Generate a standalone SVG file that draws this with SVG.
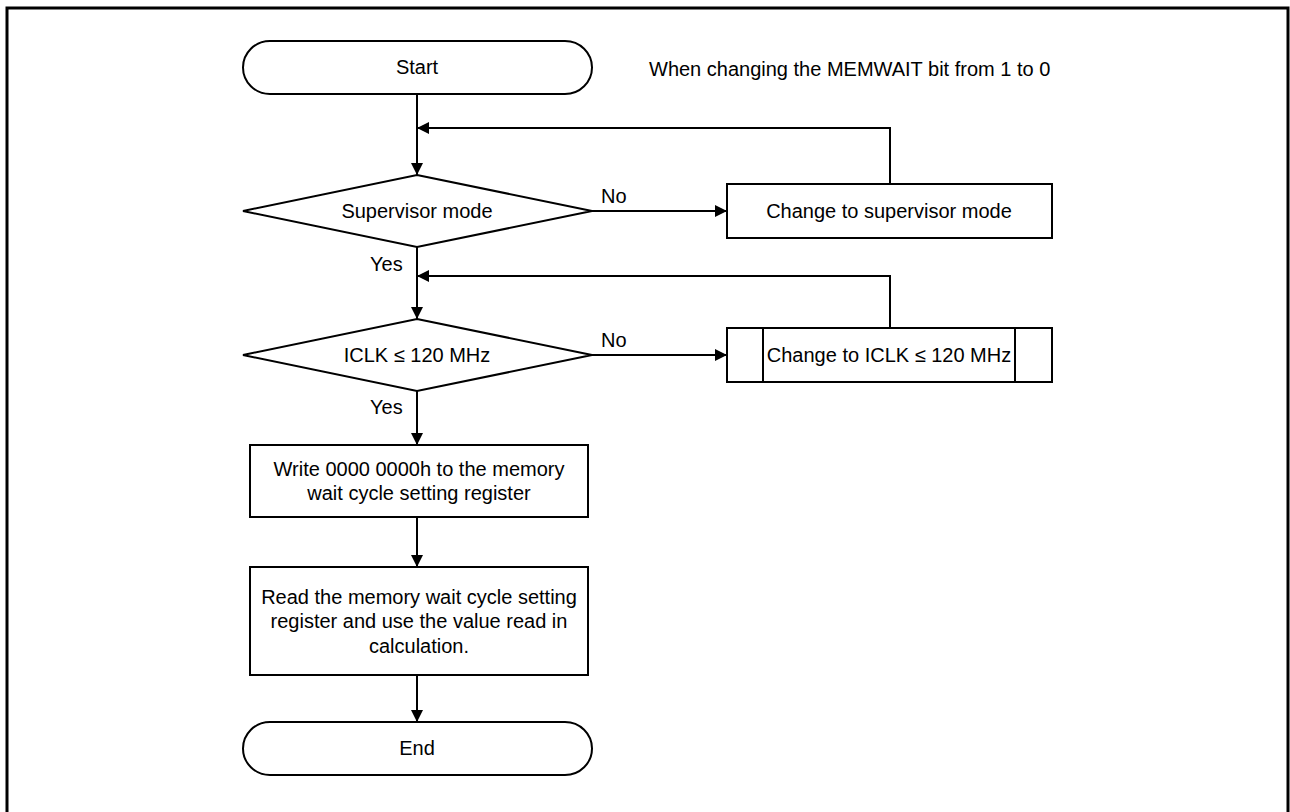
<svg xmlns="http://www.w3.org/2000/svg" width="1290" height="812" viewBox="0 0 1290 812">
<defs>
<marker id="ah" viewBox="0 0 12 12" refX="12" refY="6" markerWidth="12" markerHeight="12" markerUnits="userSpaceOnUse" orient="auto">
<path d="M0,0 L12,6 L0,12 Z" fill="#000"/>
</marker>
<style>
.s{fill:#fff;stroke:#000;stroke-width:2}
.l{fill:none;stroke:#000;stroke-width:2}
.t{font-family:"Liberation Sans",Arial,sans-serif;font-size:20px;fill:#000}
.m{text-anchor:middle}
</style>
</defs>
<rect x="0" y="0" width="1290" height="812" fill="#fff"/>
<rect x="7" y="8" width="1281" height="812" fill="none" stroke="#000" stroke-width="3"/>
<g id="connectors">
<line class="l" x1="417" y1="94" x2="417" y2="175" marker-end="url(#ah)"/>
<polyline class="l" points="890,184 890,128 417,128" marker-end="url(#ah)"/>
<line class="l" x1="592" y1="211" x2="727" y2="211" marker-end="url(#ah)"/>
<line class="l" x1="417" y1="247" x2="417" y2="319" marker-end="url(#ah)"/>
<polyline class="l" points="890,328 890,276 417,276" marker-end="url(#ah)"/>
<line class="l" x1="592" y1="355" x2="727" y2="355" marker-end="url(#ah)"/>
<line class="l" x1="417" y1="391" x2="417" y2="445" marker-end="url(#ah)"/>
<line class="l" x1="417" y1="517" x2="417" y2="567" marker-end="url(#ah)"/>
<line class="l" x1="417" y1="675" x2="417" y2="722" marker-end="url(#ah)"/>
<text class="t" x="601" y="203">No</text>
<text class="t" x="601" y="347">No</text>
<text class="t" x="370" y="271">Yes</text>
<text class="t" x="370" y="414">Yes</text>
</g>
<g id="start">
<path class="s" d="M270,41 H565 A27,26.5 0 0 1 565,94 H270 A27,26.5 0 0 1 270,41 Z"/>
<text class="t m" x="417" y="74">Start</text>
</g>
<text id="note" class="t" x="649" y="76">When changing the MEMWAIT bit from 1 to 0</text>
<g id="dec1">
<polygon class="s" points="417,175 592,211 417,247 243,211"/>
<text class="t m" x="417" y="218">Supervisor mode</text>
</g>
<g id="proc1">
<rect class="s" x="727" y="184" width="325" height="54"/>
<text class="t m" x="889" y="218">Change to supervisor mode</text>
</g>
<g id="dec2">
<polygon class="s" points="417,319 592,355 417,391 243,355"/>
<text class="t m" x="417" y="362">ICLK ≤ 120 MHz</text>
</g>
<g id="proc2">
<rect class="s" x="727" y="328" width="325" height="54"/>
<line class="l" x1="763" y1="328" x2="763" y2="382"/>
<line class="l" x1="1015" y1="328" x2="1015" y2="382"/>
<text class="t m" x="889" y="362">Change to ICLK ≤ 120 MHz</text>
</g>
<g id="proc3">
<rect class="s" x="250" y="445" width="338" height="72"/>
<text class="t m" x="419" y="476">Write 0000 0000h to the memory</text>
<text class="t m" x="419" y="500">wait cycle setting register</text>
</g>
<g id="proc4">
<rect class="s" x="250" y="567" width="338" height="108"/>
<text class="t m" x="419" y="604">Read the memory wait cycle setting</text>
<text class="t m" x="419" y="628">register and use the value read in</text>
<text class="t m" x="419" y="653">calculation.</text>
</g>
<g id="end">
<path class="s" d="M270,722 H565 A27,26.5 0 0 1 565,775 H270 A27,26.5 0 0 1 270,722 Z"/>
<text class="t m" x="417" y="755">End</text>
</g>
</svg>
